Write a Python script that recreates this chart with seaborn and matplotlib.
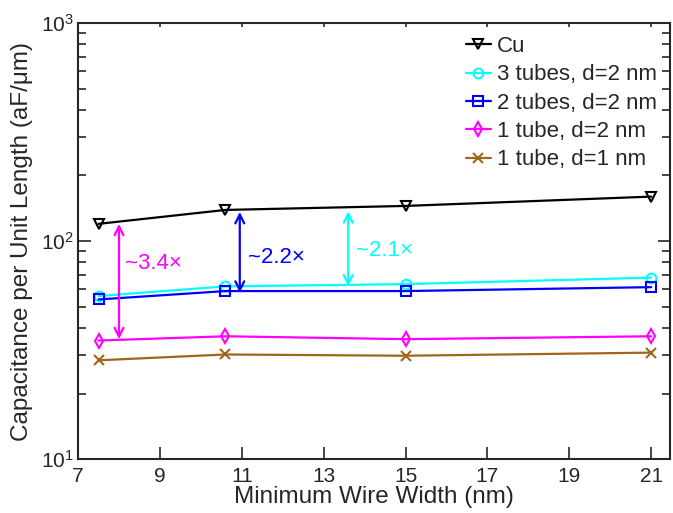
import numpy as np
import pandas as pd
import matplotlib
matplotlib.use("Agg")
import matplotlib.pyplot as plt
import seaborn as sns
from matplotlib.ticker import LogLocator, FixedLocator

# Données
wire_width = [7.5, 10.6, 15, 21]
cu = [120, 139, 145, 160]
tubes3_d2 = [56, 62, 63.5, 68]
tubes2_d2 = [54, 59, 59, 61.5]
tube1_d2 = [35, 36.6, 35.5, 36.6]
tube1_d1 = [28.4, 30.2, 29.8, 30.8]

series_names = ["Cu", "3 tubes, d=2 nm", "2 tubes, d=2 nm", "1 tube, d=2 nm", "1 tube, d=1 nm"]
series_values = [cu, tubes3_d2, tubes2_d2, tube1_d2, tube1_d1]
series_colors = ["black", "#00FFFF", "#0000FF", "#FF00FF", "#A0661E"]
series_markers = ["v", "o", "s", "d", "x"]

# Flèches de ratio : x, bas, haut, texte, position du texte
arrow_x = [8.0, 10.95, 13.6]
arrow_low = [35.5, 58, 62]
arrow_high = [120, 136, 137]
arrow_text = ["~3.4\u00d7", "~2.2\u00d7", "~2.1\u00d7"]
arrow_text_x = [8.15, 11.15, 13.8]
arrow_text_y = [79, 84.5, 91]
arrow_colors = ["#FF00FF", "#0000FF", "#00FFFF"]

rows = []
for name, vals in zip(series_names, series_values):
    for x, v in zip(wire_width, vals):
        rows.append({"width": x, "cap": v, "series": name})
df = pd.DataFrame(rows)

sns.set_style("ticks")
plt.rcParams["font.family"] = ["Liberation Sans", "DejaVu Sans"]
plt.rcParams["mathtext.fontset"] = "custom"
plt.rcParams["mathtext.rm"] = "Liberation Sans"

fig = plt.figure(figsize=(6.73, 5.13), dpi=100)
ax = fig.add_axes([0.116, 0.105, 0.879, 0.85])

for name, color, marker in zip(series_names, series_colors, series_markers):
    sub = df[df["series"] == name]
    sns.lineplot(data=sub, x="width", y="cap", ax=ax, color=color, marker=marker,
                 markersize=7, markerfacecolor="none", markeredgecolor=color,
                 markeredgewidth=1.5, linewidth=1.6, label=name)

for x, lo, hi, t, tx, ty, c in zip(arrow_x, arrow_low, arrow_high, arrow_text,
                                   arrow_text_x, arrow_text_y, arrow_colors):
    ax.annotate("", xy=(x, hi), xytext=(x, lo),
                arrowprops=dict(arrowstyle="<->", color=c, lw=1.6,
                                shrinkA=0, shrinkB=0, mutation_scale=16))
    ax.text(tx, ty, t, color=c, fontsize=16, va="center", ha="left")

ax.set_yscale("log")
ax.set_ylim(10, 1000)
ax.set_xlim(7, 21.45)
ax.xaxis.set_major_locator(FixedLocator([7, 9, 11, 13, 15, 17, 19, 21]))
ax.yaxis.set_major_locator(LogLocator(base=10))
ax.yaxis.set_minor_locator(LogLocator(base=10, subs=np.arange(2, 10)))
ax.yaxis.set_minor_formatter(plt.NullFormatter())

ax.tick_params(which="both", direction="in", top=True, right=True, labelsize=15,
               width=1.2)
ax.tick_params(axis="x", pad=6)
ax.tick_params(axis="y", pad=3)
ax.tick_params(which="major", length=9)
ax.tick_params(which="minor", length=5.5)
for s in ax.spines.values():
    s.set_linewidth(1.5)

# ticks du haut plus courts, comme sur l'original
for tk in ax.xaxis.get_major_ticks():
    tk.tick2line.set_markersize(3)

ax.set_xlabel("Minimum Wire Width (nm)", fontsize=17.5, labelpad=0)
ax.set_ylabel("Capacitance per Unit Length (aF/\u03bcm)", fontsize=17.5, labelpad=6)

ax.legend(loc="upper right", bbox_to_anchor=(0.995, 0.993), frameon=False,
          fontsize=16, handlelength=1.15, handletextpad=0.25, labelspacing=0.33,
          borderaxespad=0.15, borderpad=0.3)

fig.savefig("out.png", dpi=100)
